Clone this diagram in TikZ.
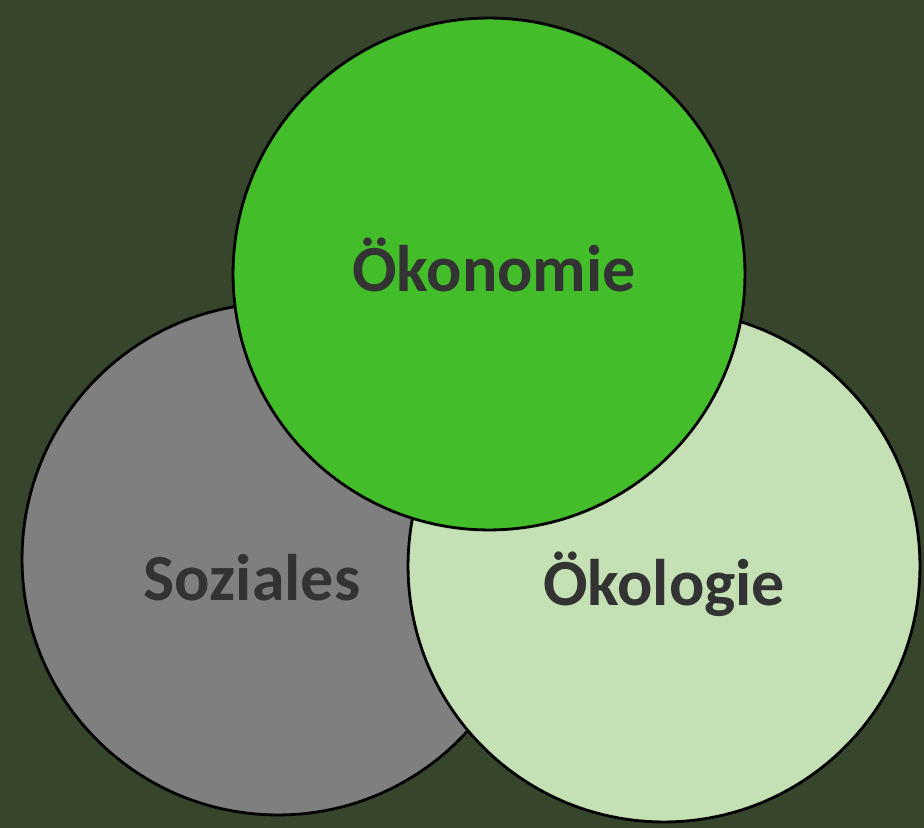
\documentclass[tikz,border=0pt]{standalone}
\usepackage{fontspec}
\setmainfont{Carlito}
\definecolor{bggreen}{HTML}{36452C}
\definecolor{soziales}{HTML}{7F7F7F}
\definecolor{oekonomie}{HTML}{43BE2A}
\definecolor{oekologie}{HTML}{C5E0B4}
\definecolor{labeltext}{HTML}{333333}

\begin{document}
\begin{tikzpicture}[x=0.02cm,y=-0.02cm,
    ring/.style={circle,draw=black,line width=1.6pt,minimum size=10.24cm,inner sep=0pt},
    word/.style={anchor=base,text=labeltext,font=\fontsize{37.5}{45}\selectfont\bfseries}]
    \fill[bggreen] (0,0) rectangle (924,828);
    \useasboundingbox (0,0) rectangle (924,828);
    \node[ring,fill=soziales] (soz) at (278,559) {};
    \node[ring,fill=oekologie] (oeko) at (664,566) {};
    \node[ring,fill=oekonomie] (oekon) at (489,274) {};
    \node[word] (tsoz) at (252,600) {Soziales};
    \node[word] (toeko) at (664,605) {Ökologie};
    \node[word] (toekon) at (494,292) {Ökonomie};
  \end{tikzpicture}
\end{document}
